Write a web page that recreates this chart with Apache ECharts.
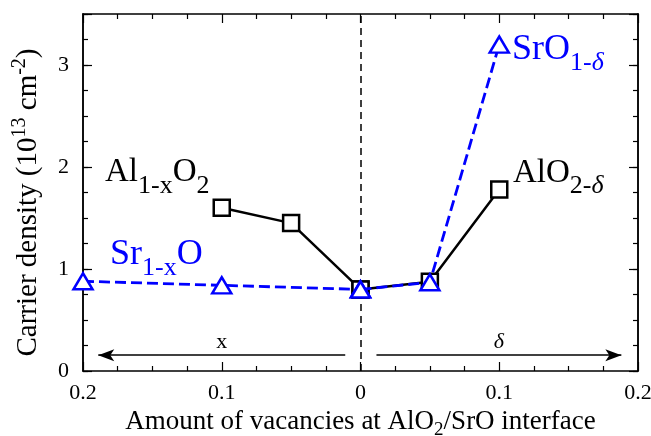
<!DOCTYPE html>
<html><head><meta charset="utf-8">
<script src="https://cdn.jsdelivr.net/npm/echarts@6/dist/echarts.min.js"></script>
<style>html,body{margin:0;padding:0;background:#fff}#c{width:651px;height:436px}</style>
</head><body><div id="c"></div>
<script>
// ---- data ----
const alX = [-0.1, -0.05, 0];          // Al(1-x)O2 vacancies (left side, x)
const alY = [1.6, 1.45, 0.8];
const alDX = [0, 0.05, 0.1];           // AlO(2-δ) (right side, δ)
const alDY = [0.8, 0.875, 1.78];
const srX = [-0.2, -0.1, 0];           // Sr(1-x)O
const srY = [0.88, 0.84, 0.8];
const srDX = [0, 0.05, 0.1];           // SrO(1-δ)
const srDY = [0.8, 0.87, 3.2];
const xTickValues = [-0.2, -0.1, 0, 0.1, 0.2];
const yTickLabels = [0, 1, 2, 3];
const arrowY = 0.155;
const leftArrow = [-0.189, -0.011];
const rightArrow = [0.0115, 0.188];

const FONT = 'Liberation Serif';
const BLUE = '#0000ff';
const zip = (a, b) => a.map((v, i) => [v, b[i]]);

const chart = echarts.init(document.getElementById('c'), null, {renderer: 'canvas'});

const tickStyle = {color: '#000', width: 1.2};
function xAx(pos, showLabel, extra) {
  return Object.assign({
    type: 'value', min: -0.2, max: 0.2, interval: 0.1, position: pos,
    axisLine: {show: true, onZero: false, lineStyle: {color: '#000', width: 1.5}},
    axisTick: {show: true, inside: true, length: 9, lineStyle: tickStyle},
    minorTick: {show: true, splitNumber: 4, length: 5, lineStyle: tickStyle},
    splitLine: {show: false}, minorSplitLine: {show: false},
    axisLabel: {show: showLabel, margin: 11, color: '#000', fontFamily: FONT, fontSize: 22,
      formatter: v => String(Math.abs(Math.round(v * 10) / 10))}
  }, extra || {});
}
function yAx(pos, interval, len, showLabel, extra) {
  return Object.assign({
    type: 'value', min: 0, max: 3.5, interval: interval, position: pos,
    axisLine: {show: true, onZero: false, lineStyle: {color: '#000', width: 1.5}},
    axisTick: {show: true, inside: true, length: len, lineStyle: tickStyle},
    splitLine: {show: false},
    axisLabel: {show: showLabel, margin: 14, color: '#000', fontFamily: FONT, fontSize: 22,
      formatter: v => (yTickLabels.indexOf(v) >= 0 ? String(v) : '')}
  }, extra || {});
}

const option = {
  backgroundColor: '#fff',
  animation: false,
  grid: {left: 83, right: 13, top: 14, bottom: 65, containLabel: false, outerBoundsMode: 'none'},
  xAxis: [
    xAx('bottom', true, {
      name: '{a|Amount of vacancies at AlO}{s|2}{a|/SrO interface}',
      nameLocation: 'middle', nameGap: 36,
      nameTextStyle: {rich: {
        a: {fontFamily: FONT, fontSize: 27, color: '#000', lineHeight: 27, verticalAlign: 'top'},
        s: {fontFamily: FONT, fontSize: 19, color: '#000', lineHeight: 19, verticalAlign: 'top', padding: [12, 0, 0, 0]}
      }}
    }),
    xAx('top', false)
  ],
  yAxis: [
    yAx('left', 0.25, 5, true, {
      name: '{a|Carrier density (10}{p|13}{a| cm}{p|-2}{a|)}',
      nameLocation: 'middle', nameRotate: 90, nameGap: 40,
      nameTextStyle: {padding: [0, 20, 0, 0], rich: {
        a: {fontFamily: FONT, fontSize: 29, color: '#000', lineHeight: 32, verticalAlign: 'bottom'},
        p: {fontFamily: FONT, fontSize: 20, color: '#000', lineHeight: 20, verticalAlign: 'bottom', padding: [0, 0, 13, 0]}
      }}
    }),
    yAx('left', 1, 9, false),
    yAx('right', 0.25, 5, false),
    yAx('right', 1, 9, false)
  ],
  series: [
    {
      type: 'line', name: 'guides', data: [], z: 1, silent: true,
      markLine: {
        silent: true, animation: false, z: 1,
        data: [
          [{coord: [0, 0], symbol: 'none', lineStyle: {type: [7, 5], color: '#000', width: 1.5}, label: {show: false}},
           {coord: [0, 3.5], symbol: 'none'}],
          [{coord: [leftArrow[0], arrowY], symbol: 'arrow', symbolSize: [9, 16],
            lineStyle: {type: 'solid', color: '#000', width: 1.5},
            label: {show: true, formatter: 'x', position: 'insideMiddleTop', distance: 2, color: '#000', fontFamily: FONT, fontSize: 22}},
           {coord: [leftArrow[1], arrowY], symbol: 'none'}],
          [{coord: [rightArrow[0], arrowY], symbol: 'none',
            lineStyle: {type: 'solid', color: '#000', width: 1.5},
            label: {show: true, formatter: 'δ', position: 'insideMiddleTop', distance: 2, color: '#000', fontFamily: FONT, fontSize: 22, fontStyle: 'italic'}},
           {coord: [rightArrow[1], arrowY], symbol: 'arrow', symbolSize: [9, 16]}]
        ]
      }
    },
    {
      type: 'line', name: 'Al1-xO2', data: zip(alX, alY), z: 2, clip: false,
      symbol: 'rect', symbolSize: 16,
      itemStyle: {color: '#fff', borderColor: '#000', borderWidth: 2.5},
      lineStyle: {color: '#000', width: 2.5}
    },
    {
      type: 'line', name: 'AlO2-d', data: zip(alDX, alDY), z: 2, clip: false,
      symbol: 'rect', symbolSize: 16,
      itemStyle: {color: '#fff', borderColor: '#000', borderWidth: 2.5},
      lineStyle: {color: '#000', width: 2.5}
    },
    {
      type: 'line', name: 'Sr1-xO', data: zip(srX, srY), z: 3, clip: false,
      symbol: 'triangle', symbolSize: [19, 16],
      itemStyle: {color: '#fff', borderColor: BLUE, borderWidth: 2.5},
      lineStyle: {color: BLUE, width: 2.8, type: [11, 5]}
    },
    {
      type: 'line', name: 'SrO1-d', data: zip(srDX, srDY), z: 3, clip: false,
      symbol: 'triangle', symbolSize: [19, 16],
      itemStyle: {color: '#fff', borderColor: BLUE, borderWidth: 2.5},
      lineStyle: {color: BLUE, width: 2.8, type: [11, 5]}
    }
  ],
  graphic: [
    {type: 'text', left: 105, top: 156, z: 10, style: {
      text: '{m|Al}{s|1-x}{m|O}{s|2}',
      rich: {
        m: {fontFamily: FONT, fontSize: 33, lineHeight: 33, fill: '#000', verticalAlign: 'top'},
        s: {fontFamily: FONT, fontSize: 26, lineHeight: 26, fill: '#000', verticalAlign: 'top', padding: [17, 0, 0, 0]}
      }}},
    {type: 'text', left: 513, top: 156.5, z: 10, style: {
      text: '{m|AlO}{s|2-}{i|δ}',
      rich: {
        m: {fontFamily: FONT, fontSize: 33, lineHeight: 33, fill: '#000', verticalAlign: 'top'},
        s: {fontFamily: FONT, fontSize: 26, lineHeight: 26, fill: '#000', verticalAlign: 'top', padding: [17, 0, 0, 0]},
        i: {fontFamily: FONT, fontSize: 26, lineHeight: 26, fill: '#000', verticalAlign: 'top', padding: [17, 0, 0, 0], fontStyle: 'italic'}
      }}},
    {type: 'text', left: 110, top: 237, z: 10, style: {
      text: '{m|Sr}{s|1-x}{m|O}',
      rich: {
        m: {fontFamily: FONT, fontSize: 36, lineHeight: 36, fill: BLUE, verticalAlign: 'top'},
        s: {fontFamily: FONT, fontSize: 26, lineHeight: 26, fill: BLUE, verticalAlign: 'top', padding: [18, 0, 0, 0]}
      }}},
    {type: 'text', left: 512, top: 32, z: 10, style: {
      text: '{m|SrO}{s|1-}{i|δ}',
      rich: {
        m: {fontFamily: FONT, fontSize: 36, lineHeight: 36, fill: BLUE, verticalAlign: 'top'},
        s: {fontFamily: FONT, fontSize: 26, lineHeight: 26, fill: BLUE, verticalAlign: 'top', padding: [18, 0, 0, 0]},
        i: {fontFamily: FONT, fontSize: 26, lineHeight: 26, fill: BLUE, verticalAlign: 'top', padding: [18, 0, 0, 0], fontStyle: 'italic'}
      }}}
  ]
};
chart.setOption(option);
</script>
</body></html>
